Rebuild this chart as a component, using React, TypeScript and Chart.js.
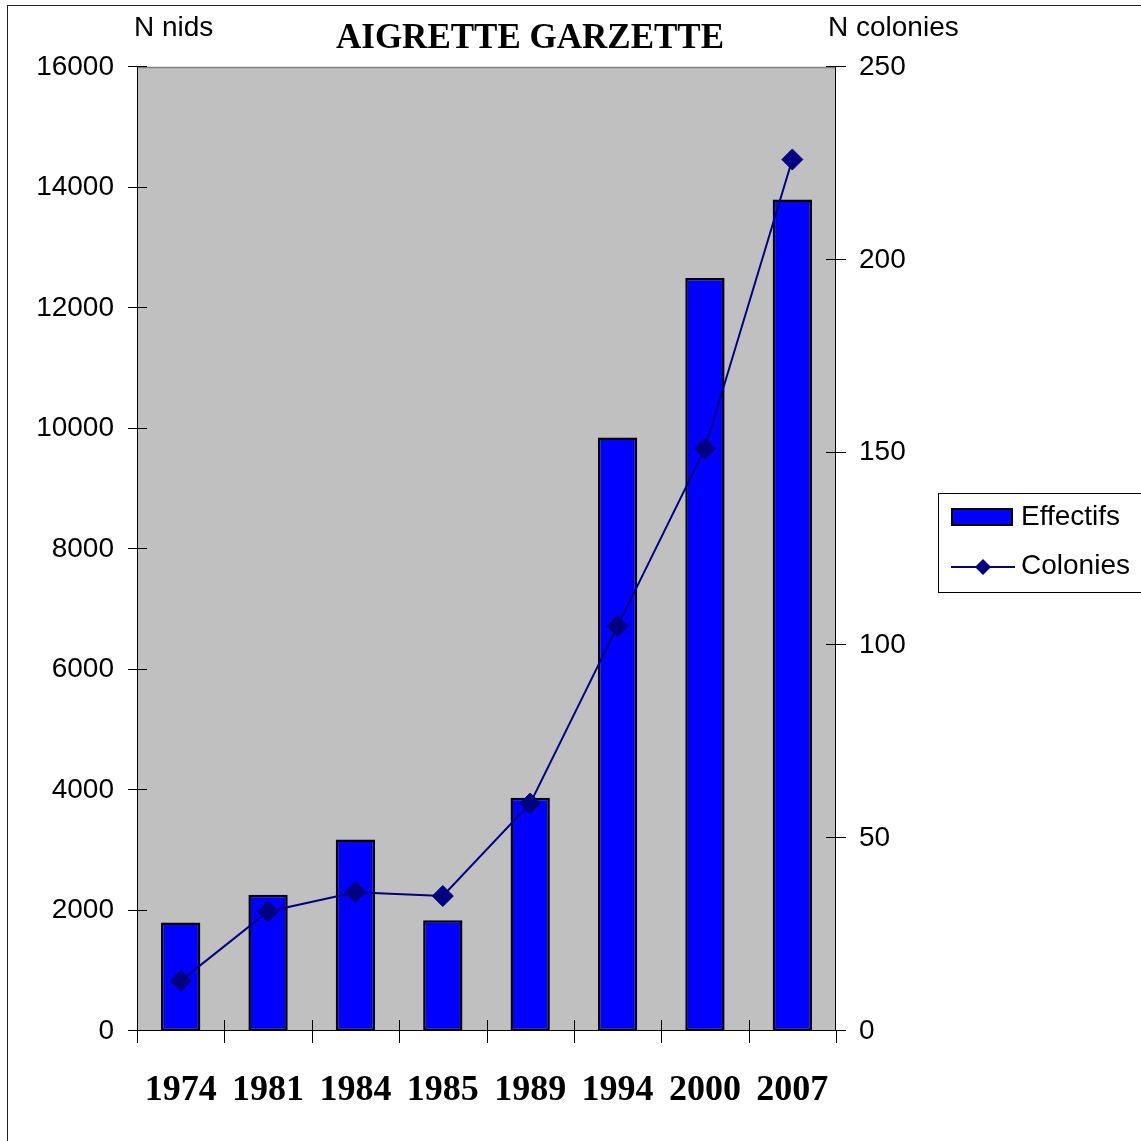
import React, { useEffect, useRef } from "react";
import { Chart, registerables } from "chart.js";

Chart.register(...registerables);

const years = ["1974", "1981", "1984", "1985", "1989", "1994", "2000", "2007"];
const effectifs = [1800, 2260, 3180, 1840, 3870, 9850, 12500, 13800];
const colonies = [13, 31, 36, 35, 59, 105, 151, 226];
const titleText = "AIGRETTE GARZETTE";
const leftAxisTitle = "N nids";
const rightAxisTitle = "N colonies";

const SANS = "'Liberation Sans', Arial, sans-serif";
const SERIF = "'Liberation Serif', 'Times New Roman', serif";

const W = 1141;
const H = 1141;

const decorPlugin = {
  id: "decor",
  beforeDatasetsDraw(chart: any) {
    const { ctx, chartArea: a } = chart;
    ctx.save();
    ctx.fillStyle = "#C0C0C0";
    ctx.fillRect(a.left, a.top, a.right - a.left, a.bottom - a.top);
    ctx.strokeStyle = "#808080";
    ctx.lineWidth = 1.5;
    ctx.beginPath();
    ctx.moveTo(a.left, a.top + 0.5);
    ctx.lineTo(a.right, a.top + 0.5);
    ctx.stroke();
    ctx.strokeStyle = "#000";
    ctx.lineWidth = 1;
    ctx.beginPath();
    ctx.moveTo(a.left + 0.5, a.top);
    ctx.lineTo(a.left + 0.5, a.bottom);
    ctx.moveTo(a.right - 0.5, a.top);
    ctx.lineTo(a.right - 0.5, a.bottom);
    ctx.moveTo(a.left, a.bottom - 0.5);
    ctx.lineTo(a.right, a.bottom - 0.5);
    ctx.stroke();
    const yl = chart.scales.y;
    const yr = chart.scales.y1;
    ctx.beginPath();
    yl.ticks.forEach((t: any) => {
      const y = Math.round(yl.getPixelForValue(t.value)) - 0.5;
      ctx.moveTo(a.left - 9, y);
      ctx.lineTo(a.left + 10, y);
    });
    yr.ticks.forEach((t: any) => {
      const y = Math.round(yr.getPixelForValue(t.value)) - 0.5;
      ctx.moveTo(a.right - 10, y);
      ctx.lineTo(a.right + 10, y);
    });
    const xs = chart.scales.x;
    const n = chart.data.labels.length;
    for (let i = 0; i <= n; i++) {
      let x;
      if (i === 0) x = a.left;
      else if (i === n) x = a.right;
      else x = (xs.getPixelForValue(i - 1) + xs.getPixelForValue(i)) / 2;
      x = Math.round(x) + 0.5;
      const inner = i > 0 && i < n;
      ctx.moveTo(x, inner ? a.bottom - 11 : a.bottom);
      ctx.lineTo(x, a.bottom + 12);
    }
    ctx.stroke();
    ctx.restore();
  },
  afterDraw(chart: any) {
    const { ctx } = chart;
    ctx.save();
    ctx.fillStyle = "#000";
    ctx.font = `bold 35px ${SERIF}`;
    ctx.textAlign = "center";
    ctx.textBaseline = "middle";
    ctx.fillText(titleText, 530, 39);
    ctx.font = `28px ${SANS}`;
    ctx.textAlign = "left";
    ctx.fillText(leftAxisTitle, 134, 28);
    ctx.fillText(rightAxisTitle, 828, 28);
    // legend
    const lx = 938.5;
    const ly = 493.5;
    ctx.strokeStyle = "#000";
    ctx.lineWidth = 1;
    ctx.fillStyle = "#fff";
    ctx.fillRect(lx, ly, 220, 99);
    ctx.strokeRect(lx, ly, 220, 99);
    const ds = chart.data.datasets;
    const bar = ds[0];
    ctx.fillStyle = bar.backgroundColor;
    ctx.fillRect(952, 509, 60, 16);
    ctx.strokeStyle = bar.borderColor;
    ctx.lineWidth = 2;
    ctx.strokeRect(952, 509, 60, 16);
    ctx.fillStyle = "#000";
    ctx.font = `28px ${SANS}`;
    ctx.textAlign = "left";
    ctx.textBaseline = "middle";
    ctx.fillText(bar.label, 1021, 517);
    const ln = ds[1];
    ctx.strokeStyle = ln.borderColor;
    ctx.lineWidth = 2;
    ctx.beginPath();
    ctx.moveTo(951, 567);
    ctx.lineTo(1015, 567);
    ctx.stroke();
    ctx.fillStyle = ln.pointBackgroundColor;
    ctx.beginPath();
    ctx.moveTo(983 - 8, 567);
    ctx.lineTo(983, 567 - 8);
    ctx.lineTo(983 + 8, 567);
    ctx.lineTo(983, 567 + 8);
    ctx.closePath();
    ctx.fill();
    ctx.fillStyle = "#000";
    ctx.fillText(ln.label, 1021, 566);
    ctx.restore();
  },
};

export default function App() {
  const ref = useRef<HTMLCanvasElement | null>(null);
  useEffect(() => {
    if (!ref.current) return;
    const chart = new Chart(ref.current, {
      type: "bar",
      data: {
        labels: years,
        datasets: [
          {
            type: "bar",
            label: "Effectifs",
            data: effectifs,
            backgroundColor: "#0000FF",
            borderColor: "#000000",
            borderWidth: 2.5,
            borderSkipped: false,
            yAxisID: "y",
            categoryPercentage: 1,
            barPercentage: 0.45,
            order: 2,
          } as any,
          {
            type: "line",
            label: "Colonies",
            data: colonies,
            borderColor: "#000080",
            backgroundColor: "#000080",
            pointBackgroundColor: "#000080",
            pointBorderColor: "#000080",
            pointStyle: "rectRot",
            pointRadius: 10.5,
            pointBorderWidth: 1,
            borderWidth: 2,
            tension: 0,
            yAxisID: "y1",
            order: 1,
          } as any,
        ],
      },
      options: {
        responsive: false,
        animation: false,
        devicePixelRatio: 1,
        layout: { padding: { top: 67, left: 0, right: 0, bottom: 0 } },
        plugins: {
          legend: { display: false },
          title: { display: false },
          tooltip: { enabled: false },
        },
        scales: {
          x: {
            offset: true,
            grid: { display: false, drawTicks: false },
            border: { display: false },
            ticks: {
              color: "#000",
              padding: 38,
              font: { family: SERIF, size: 36, weight: "bold" },
              maxRotation: 0,
              autoSkip: false,
            },
            afterFit: (s: any) => {
              s.height = 110;
            },
          },
          y: {
            position: "left",
            min: 0,
            max: 16000,
            grid: { display: false, drawTicks: false },
            border: { display: false },
            ticks: {
              stepSize: 2000,
              color: "#000",
              padding: 23,
              font: { family: SANS, size: 28 },
              callback: (v: any) => String(v),
            },
            afterFit: (s: any) => {
              s.width = 137;
            },
          },
          y1: {
            position: "right",
            min: 0,
            max: 250,
            grid: { display: false, drawTicks: false },
            border: { display: false },
            ticks: {
              stepSize: 50,
              color: "#000",
              padding: 23,
              font: { family: SANS, size: 28 },
              callback: (v: any) => String(v),
            },
            afterFit: (s: any) => {
              s.width = W - 836;
            },
          },
        },
      } as any,
      plugins: [decorPlugin],
    });
    return () => chart.destroy();
  }, []);

  return (
    <div
      style={{
        position: "fixed",
        left: 0,
        top: 0,
        width: W,
        height: H,
        overflow: "hidden",
        background: "#fff",
      }}
    >
      <div
        style={{
          position: "absolute",
          left: 7,
          top: 5,
          width: 1300,
          height: 1300,
          border: "1px solid #222",
          boxSizing: "border-box",
        }}
      />
      <canvas
        ref={ref}
        width={W}
        height={H}
        style={{ position: "absolute", left: 0, top: 0, width: W, height: H }}
      />
    </div>
  );
}
